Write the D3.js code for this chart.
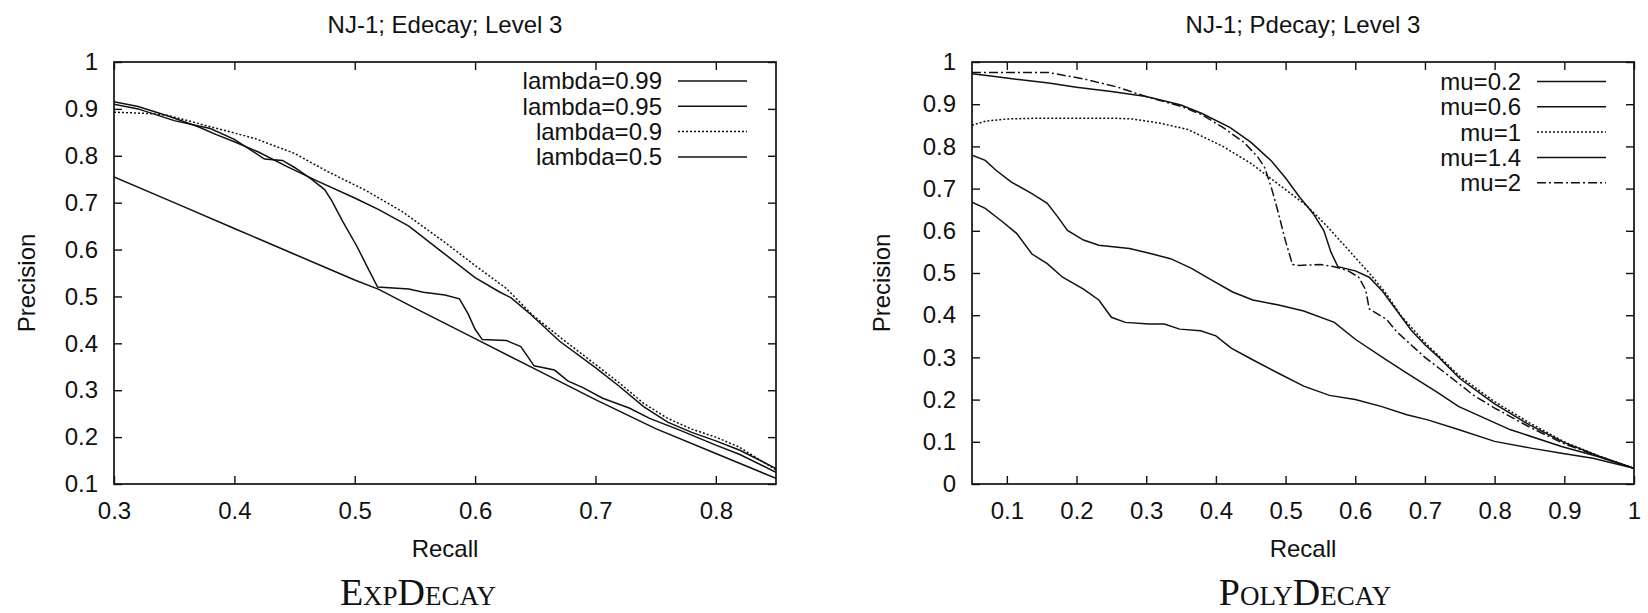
<!DOCTYPE html>
<html>
<head>
<meta charset="utf-8">
<script src="https://cdn.jsdelivr.net/npm/d3@7"></script>
<style>
  body { margin: 0; background: #fff; }
  svg text { font-family: "Liberation Sans", Arial, sans-serif; fill: #111; }
</style>
</head>
<body>
<div id="chart"></div>
<script>
// ---- data: left panel (ExpDecay), [recall, precision]
const lambdaLabels = ['lambda=0.99', 'lambda=0.95', 'lambda=0.9', 'lambda=0.5'];
const lambda099 = [[0.3,0.915],[0.32,0.905],[0.345,0.885],[0.37,0.862],[0.385,0.845],[0.4,0.83],[0.42,0.808],[0.443,0.778],[0.47,0.745],[0.5,0.71],[0.52,0.685],[0.545,0.65],[0.57,0.6],[0.6,0.54],[0.62,0.51],[0.63,0.497],[0.647,0.46],[0.67,0.405],[0.7,0.348],[0.72,0.308],[0.74,0.265],[0.76,0.232],[0.78,0.21],[0.8,0.192],[0.82,0.172],[0.85,0.133]];
const lambda095 = [[0.3,0.91],[0.32,0.9],[0.35,0.875],[0.38,0.858],[0.4,0.835],[0.415,0.81],[0.425,0.793],[0.44,0.79],[0.45,0.775],[0.464,0.75],[0.475,0.728],[0.481,0.704],[0.49,0.66],[0.502,0.606],[0.512,0.555],[0.519,0.52],[0.545,0.516],[0.557,0.509],[0.575,0.503],[0.587,0.495],[0.594,0.464],[0.6,0.43],[0.606,0.408],[0.626,0.406],[0.638,0.393],[0.649,0.352],[0.666,0.343],[0.677,0.32],[0.69,0.305],[0.706,0.283],[0.728,0.262],[0.745,0.24],[0.77,0.215],[0.8,0.183],[0.82,0.163],[0.85,0.125]];
const lambda090 = [[0.3,0.893],[0.33,0.89],[0.345,0.886],[0.38,0.862],[0.417,0.837],[0.45,0.805],[0.477,0.767],[0.51,0.725],[0.54,0.68],[0.574,0.617],[0.6,0.566],[0.626,0.517],[0.647,0.462],[0.672,0.41],[0.7,0.355],[0.72,0.315],[0.74,0.272],[0.76,0.24],[0.78,0.217],[0.8,0.2],[0.82,0.178],[0.85,0.13]];
const lambda050 = [[0.3,0.755],[0.35,0.7],[0.4,0.645],[0.45,0.59],[0.5,0.535],[0.52,0.515],[0.55,0.475],[0.6,0.41],[0.65,0.345],[0.7,0.28],[0.75,0.218],[0.8,0.165],[0.85,0.112]];

// ---- data: right panel (PolyDecay)
const muLabels = ['mu=0.2', 'mu=0.6', 'mu=1', 'mu=1.4', 'mu=2'];
const mu02 = [[0.05,0.668],[0.069,0.653],[0.091,0.625],[0.114,0.594],[0.136,0.545],[0.158,0.522],[0.18,0.49],[0.21,0.462],[0.232,0.436],[0.25,0.395],[0.27,0.383],[0.304,0.379],[0.326,0.379],[0.348,0.367],[0.378,0.363],[0.4,0.351],[0.422,0.322],[0.452,0.295],[0.489,0.263],[0.526,0.232],[0.563,0.21],[0.6,0.2],[0.637,0.184],[0.674,0.164],[0.704,0.152],[0.748,0.129],[0.8,0.101],[0.852,0.085],[0.896,0.073],[0.941,0.061],[1.0,0.037]];
const mu06 = [[0.05,0.779],[0.069,0.767],[0.084,0.744],[0.106,0.716],[0.136,0.688],[0.158,0.665],[0.173,0.633],[0.187,0.601],[0.21,0.578],[0.232,0.566],[0.276,0.558],[0.306,0.546],[0.335,0.534],[0.365,0.511],[0.394,0.483],[0.424,0.455],[0.453,0.436],[0.49,0.424],[0.526,0.41],[0.57,0.383],[0.6,0.343],[0.644,0.295],[0.674,0.263],[0.719,0.216],[0.748,0.184],[0.822,0.129],[0.896,0.089],[0.948,0.065],[1.0,0.037]];
const mu10 = [[0.05,0.85],[0.07,0.86],[0.1,0.865],[0.15,0.867],[0.2,0.867],[0.25,0.867],[0.28,0.865],[0.32,0.855],[0.36,0.84],[0.41,0.8],[0.45,0.76],[0.49,0.71],[0.53,0.66],[0.56,0.61],[0.59,0.555],[0.62,0.5],[0.645,0.45],[0.665,0.4],[0.7,0.335],[0.75,0.255],[0.8,0.195],[0.85,0.145],[0.9,0.1],[0.95,0.066],[1.0,0.037]];
const mu14 = [[0.05,0.972],[0.08,0.966],[0.12,0.958],[0.16,0.95],[0.2,0.94],[0.25,0.93],[0.3,0.918],[0.35,0.898],[0.38,0.878],[0.42,0.845],[0.45,0.81],[0.48,0.765],[0.5,0.725],[0.52,0.68],[0.54,0.64],[0.555,0.6],[0.565,0.55],[0.575,0.515],[0.6,0.505],[0.62,0.49],[0.64,0.455],[0.66,0.41],[0.68,0.365],[0.7,0.33],[0.72,0.3],[0.75,0.25],[0.8,0.19],[0.85,0.14],[0.9,0.098],[0.95,0.066],[1.0,0.037]];
const mu20 = [[0.05,0.975],[0.1,0.975],[0.16,0.975],[0.21,0.96],[0.26,0.94],[0.3,0.918],[0.35,0.895],[0.38,0.875],[0.41,0.845],[0.44,0.81],[0.46,0.775],[0.47,0.75],[0.48,0.7],[0.49,0.64],[0.5,0.575],[0.51,0.52],[0.52,0.518],[0.55,0.52],[0.57,0.515],[0.59,0.505],[0.605,0.49],[0.615,0.46],[0.62,0.415],[0.63,0.405],[0.645,0.39],[0.66,0.36],[0.68,0.33],[0.7,0.3],[0.73,0.262],[0.77,0.21],[0.8,0.18],[0.85,0.135],[0.9,0.095],[0.95,0.065],[1.0,0.037]];

// ---- ticks
const leftXTicks = [0.3, 0.4, 0.5, 0.6, 0.7, 0.8];
const leftYTicks = [0.1, 0.2, 0.3, 0.4, 0.5, 0.6, 0.7, 0.8, 0.9, 1];
const rightXTicks = [0.1, 0.2, 0.3, 0.4, 0.5, 0.6, 0.7, 0.8, 0.9, 1];
const rightYTicks = [0, 0.1, 0.2, 0.3, 0.4, 0.5, 0.6, 0.7, 0.8, 0.9, 1];

// line styles (gnuplot-ish)
const dashes = { solid: null, dotted: '2,2', dashdot: '9,3,2,3' };

const width = 1648, height = 613;
const svg = d3.select('#chart').append('svg')
    .attr('width', width)
    .attr('height', height);
svg.append('rect').attr('width', width).attr('height', height).attr('fill', '#fff');

const fmt = d => String(+d.toFixed(1));

function drawPanel(p) {
    const x = d3.scaleLinear().domain(p.xDomain).range([p.left, p.right]);
    const y = d3.scaleLinear().domain(p.yDomain).range([p.bottom, p.top]);
    const g = svg.append('g');

    // clip
    g.append('clipPath').attr('id', p.id + '-clip')
        .append('rect')
        .attr('x', p.left).attr('y', p.top)
        .attr('width', p.right - p.left).attr('height', p.bottom - p.top);

    // axes (ticks point inward)
    const axB = g.append('g').attr('transform', `translate(0,${p.bottom})`)
        .call(d3.axisBottom(x).tickValues(p.xTicks).tickSizeInner(-8).tickSizeOuter(0).tickPadding(18).tickFormat(fmt));
    const axT = g.append('g').attr('transform', `translate(0,${p.top})`)
        .call(d3.axisTop(x).tickValues(p.xTicks).tickSizeInner(-8).tickSizeOuter(0).tickFormat(''));
    const axL = g.append('g').attr('transform', `translate(${p.left},0)`)
        .call(d3.axisLeft(y).tickValues(p.yTicks).tickSizeInner(-8).tickSizeOuter(0).tickPadding(16).tickFormat(fmt));
    const axR = g.append('g').attr('transform', `translate(${p.right},0)`)
        .call(d3.axisRight(y).tickValues(p.yTicks).tickSizeInner(-8).tickSizeOuter(0).tickFormat(''));
    [axB, axT, axL, axR].forEach(a => {
        a.select('.domain').remove();
        a.selectAll('line').attr('stroke', '#111').attr('stroke-width', 1.4);
        a.selectAll('text').attr('font-size', 24).attr('fill', '#111')
            .attr('font-family', '"Liberation Sans", Arial, sans-serif');
    });

    // frame
    g.append('rect')
        .attr('x', p.left).attr('y', p.top)
        .attr('width', p.right - p.left).attr('height', p.bottom - p.top)
        .attr('fill', 'none').attr('stroke', '#111').attr('stroke-width', 1.7);

    // curves
    const line = d3.line().x(d => x(d[0])).y(d => y(d[1]));
    g.append('g').attr('clip-path', `url(#${p.id}-clip)`)
        .selectAll('path')
        .data(p.series)
        .join('path')
        .attr('d', d => line(d.values))
        .attr('fill', 'none')
        .attr('stroke', '#111')
        .attr('stroke-width', 1.5)
        .attr('stroke-dasharray', d => dashes[d.style]);

    // legend
    const leg = g.append('g');
    p.series.forEach((s, i) => {
        const ly = p.legendTop + i * 25.3;
        leg.append('text')
            .attr('x', p.legendTextRight).attr('y', ly)
            .attr('dy', '0.35em')
            .attr('text-anchor', 'end')
            .attr('font-size', 24)
            .text(s.name);
        leg.append('line')
            .attr('x1', p.legendTextRight + 16).attr('x2', p.legendTextRight + 85)
            .attr('y1', ly).attr('y2', ly)
            .attr('stroke', '#111').attr('stroke-width', 1.5)
            .attr('stroke-dasharray', dashes[s.style]);
    });

    // titles
    const cx = (p.left + p.right) / 2;
    g.append('text').attr('x', cx).attr('y', 33)
        .attr('text-anchor', 'middle').attr('font-size', 24).text(p.title);
    g.append('text').attr('x', cx).attr('y', 557)
        .attr('text-anchor', 'middle').attr('font-size', 24).text('Recall');
    g.append('text')
        .attr('transform', `translate(${p.yLabelX},${(p.top + p.bottom) / 2 + 10}) rotate(-90)`)
        .attr('text-anchor', 'middle').attr('font-size', 24).text('Precision');
    g.append('text').attr('x', p.captionX).attr('y', 605)
        .attr('text-anchor', 'middle')
        .attr('font-size', 38)
        .style('font-family', '"Liberation Serif", "Times New Roman", serif')
        .style('font-variant', 'small-caps')
        .text(p.caption);
}

drawPanel({
    id: 'exp', left: 114, right: 776, top: 62, bottom: 484,
    xDomain: [0.3, 0.85], yDomain: [0.1, 1],
    xTicks: leftXTicks, yTicks: leftYTicks,
    title: 'NJ-1; Edecay; Level 3', caption: 'ExpDecay', captionX: 418, yLabelX: 35,
    legendTop: 81, legendTextRight: 662,
    series: [
        { name: lambdaLabels[0], values: lambda099, style: 'solid' },
        { name: lambdaLabels[1], values: lambda095, style: 'solid' },
        { name: lambdaLabels[2], values: lambda090, style: 'dotted' },
        { name: lambdaLabels[3], values: lambda050, style: 'solid' }
    ]
});

drawPanel({
    id: 'poly', left: 972, right: 1634, top: 62, bottom: 484,
    xDomain: [0.05, 1], yDomain: [0, 1],
    xTicks: rightXTicks, yTicks: rightYTicks,
    title: 'NJ-1; Pdecay; Level 3', caption: 'PolyDecay', captionX: 1305, yLabelX: 890,
    legendTop: 81.5, legendTextRight: 1521,
    series: [
        { name: muLabels[0], values: mu02, style: 'solid' },
        { name: muLabels[1], values: mu06, style: 'solid' },
        { name: muLabels[2], values: mu10, style: 'dotted' },
        { name: muLabels[3], values: mu14, style: 'solid' },
        { name: muLabels[4], values: mu20, style: 'dashdot' }
    ]
});
</script>
</body>
</html>
